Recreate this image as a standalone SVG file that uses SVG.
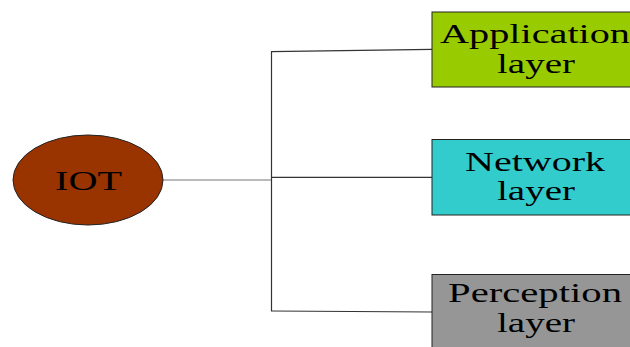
<svg xmlns="http://www.w3.org/2000/svg" width="630" height="347" viewBox="0 0 630 347">
<style>
.t{font-family:"Liberation Serif","Times New Roman",serif;font-size:27px;fill:#000}
.box{stroke:#222;stroke-width:1}
.c{fill:none;stroke:#333;stroke-width:1.2}
</style>
<rect width="630" height="347" fill="#fff"/>
<g id="connectors">
<line class="c" x1="163" y1="180" x2="271" y2="180" style="stroke:#777"/>
<line class="c" x1="271.5" y1="52" x2="271.5" y2="311"/>
<line class="c" x1="271" y1="51.7" x2="432" y2="49.3"/>
<line class="c" x1="271" y1="177.3" x2="432" y2="177.3"/>
<line class="c" x1="271" y1="311" x2="432" y2="312"/>
</g>
<g id="iot">
<ellipse cx="88" cy="180" rx="75" ry="45" fill="#993300" stroke="#222" stroke-width="1"/>
<text class="t" x="55" y="190" textLength="67" lengthAdjust="spacingAndGlyphs">IOT</text>
</g>
<g id="application">
<rect class="box" x="432" y="12" width="210" height="75" fill="#99CC00"/>
<text class="t" x="440" y="42.5" textLength="190" lengthAdjust="spacingAndGlyphs">Application</text>
<text class="t" x="497" y="72.5" textLength="78" lengthAdjust="spacingAndGlyphs">layer</text>
</g>
<g id="network">
<rect class="box" x="432" y="139.5" width="210" height="75.5" fill="#33CCCC"/>
<text class="t" x="465" y="171" textLength="140" lengthAdjust="spacingAndGlyphs">Network</text>
<text class="t" x="497" y="199.5" textLength="78" lengthAdjust="spacingAndGlyphs">layer</text>
</g>
<g id="perception">
<rect class="box" x="432" y="274.5" width="210" height="90" fill="#969696"/>
<text class="t" x="448" y="302" textLength="174" lengthAdjust="spacingAndGlyphs">Perception</text>
<text class="t" x="497" y="332" textLength="78" lengthAdjust="spacingAndGlyphs">layer</text>
</g>
</svg>
